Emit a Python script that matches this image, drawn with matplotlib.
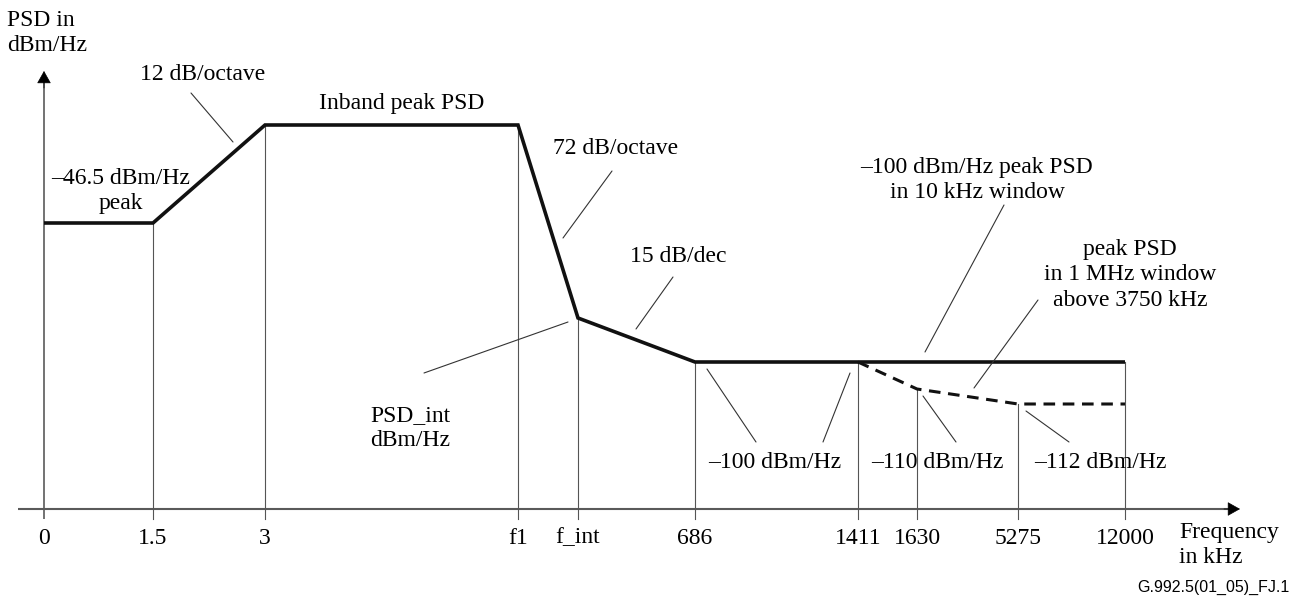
import matplotlib.pyplot as plt

# schematic frequency axis (not to scale)
freq_labels = ['0', '1.5', '3', 'f1', 'f_int', '686', '1411', '1630', '5275', '12000']
freq_pos = [0, 109, 221, 474, 534, 651, 814, 873, 974, 1081]

# schematic PSD levels (height above the frequency axis)
lvl_low = 286      # -46.5 dBm/Hz
lvl_peak = 384     # inband peak PSD
lvl_int = 191      # PSD_int
lvl_100 = 147      # -100 dBm/Hz
lvl_110 = 120      # -110 dBm/Hz
lvl_112 = 105      # -112 dBm/Hz

# peak PSD mask (solid) and 1 MHz window mask (dashed), as tick index + level
mask_idx = [0, 1, 2, 3, 4, 5, 9]
mask_lvl = [lvl_low, lvl_low, lvl_peak, lvl_peak, lvl_int, lvl_100, lvl_100]
win_idx = [6, 7, 8, 9]
win_lvl = [lvl_100, lvl_110, lvl_112, lvl_112]

# height of the thin drop line at every tick
drop_lvl = [None, lvl_low, lvl_peak, lvl_peak, lvl_int, lvl_100, lvl_100, lvl_110, lvl_112, lvl_100]

plt.rcParams['font.family'] = ['Liberation Serif', 'DejaVu Serif']
plt.rcParams['font.size'] = 17

fig = plt.figure(figsize=(12.92, 5.99), dpi=100)
ax = fig.add_axes([0, 0, 1, 1])
ax.set_xlim(-44, 1248)
ax.set_ylim(-90, 509)
ax.axis('off')

axis_col = '#5a5a5a'
thin_col = '#555555'

# axes with arrows
ax.plot([-26, 1186], [0, 0], color=axis_col, lw=1.5, solid_capstyle='butt')
ax.plot([0, 0], [-10, 428], color=axis_col, lw=1.2, solid_capstyle='butt')
head = dict(arrowstyle='-|>,head_length=0.8,head_width=0.45', mutation_scale=10,
            color='black', lw=0.5, shrinkA=0, shrinkB=0)
ax.annotate('', xy=(1196, 0), xytext=(1180, 0), arrowprops=head)
ax.annotate('', xy=(0, 438), xytext=(0, 421), arrowprops=head)

# ticks, drop lines and tick labels
for i, (lab, x) in enumerate(zip(freq_labels, freq_pos)):
    top = drop_lvl[i] if drop_lvl[i] is not None else 0
    if i > 0:
        ax.plot([x, x], [-10, top], color=thin_col, lw=0.8)
    ax.text(x, -29, lab, ha='center', va='center')

# masks
ax.plot([freq_pos[i] for i in mask_idx], mask_lvl, color='#111111', lw=2.6,
        solid_joinstyle='miter', solid_capstyle='butt')
ax.plot([freq_pos[i] for i in win_idx], win_lvl, color='#111111', lw=2.2,
        linestyle=(0, (3.8, 2.5)))

# labels and leader lines
lead = dict(arrowstyle='-', color='#333333', lw=0.8, shrinkA=0, shrinkB=0)


def leader(p0, p1):
    ax.annotate('', xy=p1, xytext=p0, arrowprops=lead)


ls = 1.3
ax.text(-37, 476, 'PSD in\ndBm/Hz', ha='left', va='center', linespacing=ls)
ax.text(1135, -36, 'Frequency\nin kHz', ha='left', va='center', linespacing=ls)
ax.text(1246, -78, 'G.992.5(01_05)_FJ.1', ha='right', va='center',
        family=['Liberation Sans', 'DejaVu Sans'], fontsize=11.5)

ax.text(159, 434, '12 dB/octave', ha='center', va='center')
leader((147, 416), (189, 367))

ax.text(77, 318, '–46.5 dBm/Hz\npeak', ha='center', va='center', linespacing=ls)

ax.text(358, 406, 'Inband peak PSD', ha='center', va='center')

ax.text(572, 360, '72 dB/octave', ha='center', va='center')
leader((568, 338), (519, 271))

ax.text(634, 252, '15 dB/dec', ha='center', va='center')
leader((629, 232), (592, 180))

ax.text(366, 81, 'PSD_int\ndBm/Hz', ha='center', va='center', linespacing=ls)
leader((524, 187), (380, 136))

ax.text(933, 329, '–100 dBm/Hz peak PSD\nin 10 kHz window', ha='center', va='center',
        linespacing=ls)
leader((960, 304), (881, 157))

ax.text(1086, 234, 'peak PSD\nin 1 MHz window\nabove 3750 kHz', ha='center', va='center',
        linespacing=ls)
leader((994, 209), (930, 121))

ax.text(731, 47, '–100 dBm/Hz', ha='center', va='center')
leader((663, 140), (712, 67))
leader((806, 136), (779, 67))

ax.text(893, 47, '–110 dBm/Hz', ha='center', va='center')
leader((879, 113), (912, 67))

ax.text(1056, 47, '–112 dBm/Hz', ha='center', va='center')
leader((982, 98), (1025, 67))

plt.savefig('out.png', dpi=100)
plt.close()
